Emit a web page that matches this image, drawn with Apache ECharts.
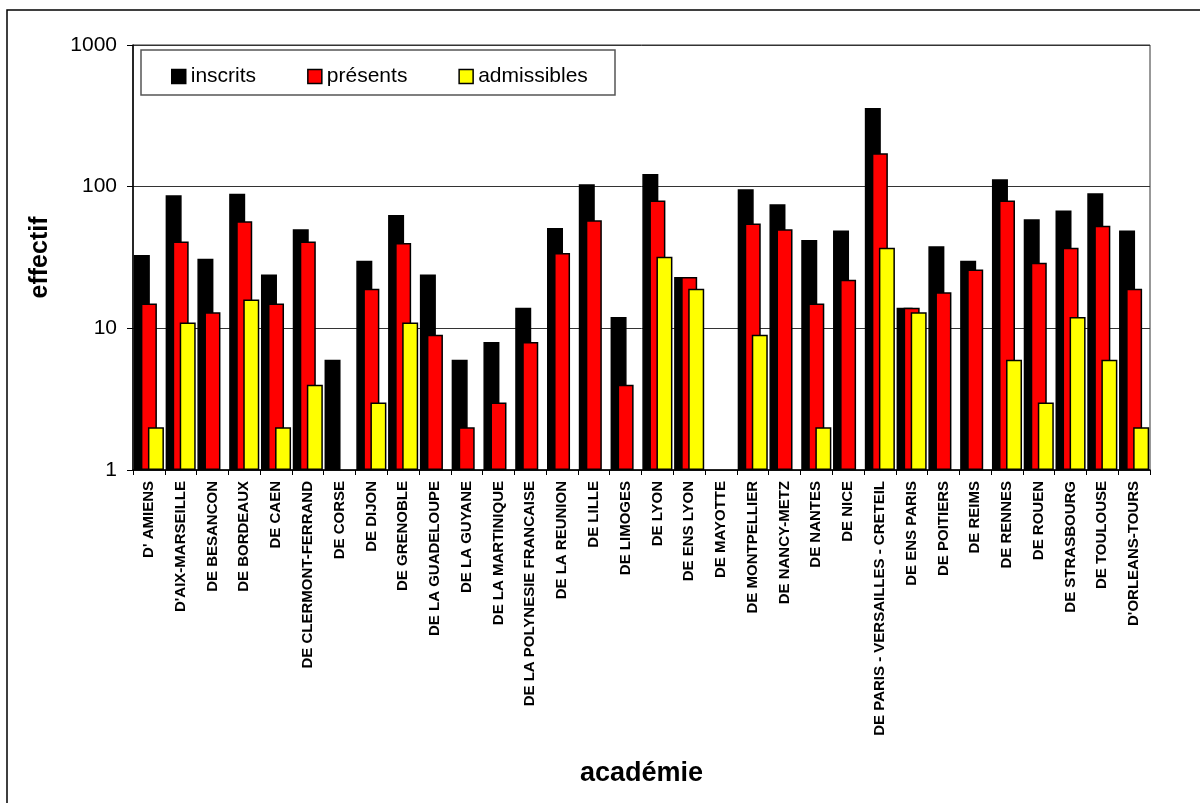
<!DOCTYPE html>
<html>
<head>
<meta charset="utf-8">
<script src="https://cdn.jsdelivr.net/npm/echarts@6/dist/echarts.min.js"></script>
<style>
  html, body { margin: 0; padding: 0; background: #fff; }
  #chart { width: 1200px; height: 803px; }
</style>
</head>
<body>
<div id="chart"></div>
<script>
// Académies (axe des catégories)
const academies = [
  "D' AMIENS", "D'AIX-MARSEILLE", "DE BESANCON", "DE BORDEAUX", "DE CAEN",
  "DE CLERMONT-FERRAND", "DE CORSE", "DE DIJON", "DE GRENOBLE", "DE LA GUADELOUPE",
  "DE LA GUYANE", "DE LA MARTINIQUE", "DE LA POLYNESIE FRANCAISE", "DE LA REUNION", "DE LILLE",
  "DE LIMOGES", "DE LYON", "DE ENS LYON", "DE MAYOTTE", "DE MONTPELLIER",
  "DE NANCY-METZ", "DE NANTES", "DE NICE", "DE PARIS - VERSAILLES - CRETEIL", "DE ENS PARIS",
  "DE POITIERS", "DE REIMS", "DE RENNES", "DE ROUEN", "DE STRASBOURG",
  "DE TOULOUSE", "D'ORLEANS-TOURS"
];

// Effectifs par académie (null = aucun candidat)
const inscrits = [
  33, 87, 31, 89, 24,
  50, 6, 30, 63, 24,
  6, 8, 14, 51, 104,
  12, 123, 23, null, 96,
  75, 42, 49, 359, 14,
  38, 30, 113, 59, 68,
  90, 49
];
const presents = [
  15, 41, 13, 57, 15,
  41, null, 19, 40, 9,
  2, 3, 8, 34, 58,
  4, 80, 23, null, 55,
  50, 15, 22, 172, 14,
  18, 26, 80, 29, 37,
  53, 19
];
const admissibles = [
  2, 11, null, 16, 2,
  4, null, 3, 11, null,
  null, null, null, null, null,
  null, 32, 19, null, 9,
  null, 2, null, 37, 13,
  null, null, 6, 3, 12,
  6, 2
];

const FONT = "'Liberation Sans', Arial, sans-serif";

const chart = echarts.init(document.getElementById('chart'), null, { renderer: 'canvas' });

function barSeries(name, data, color) {
  return {
    name: name,
    type: 'bar',
    data: data,
    barWidth: 16,
    barGap: '-56%',
    itemStyle: { color: color, borderColor: '#000', borderWidth: 1.5 },
    emphasis: { disabled: true }
  };
}

chart.setOption({
  animation: false,
  backgroundColor: '#fff',
  textStyle: { fontFamily: FONT, color: '#000' },
  grid: {
    left: 133, right: 50, top: 45, bottom: 333,
    show: true, borderColor: '#333', borderWidth: 1, backgroundColor: 'transparent'
  },
  graphic: [
    {
      type: 'polyline',
      shape: { points: [[7, 803], [7, 10], [1200, 10]] },
      style: { stroke: '#000', lineWidth: 1.5, fill: null },
      silent: true
    },
    {
      type: 'rect',
      shape: { x: 141, y: 50, width: 474, height: 45 },
      style: { stroke: '#555', lineWidth: 1.5, fill: '#fff' },
      z: 5,
      silent: true
    }
  ],
  legend: {
    data: ['inscrits', 'présents', 'admissibles'],
    left: 166,
    top: 61,
    itemWidth: 14,
    itemHeight: 14,
    itemGap: 51,
    icon: 'rect',
    selectedMode: false,
    z: 10,
    itemStyle: { borderColor: '#000', borderWidth: 1.5 },
    textStyle: { fontFamily: FONT, fontSize: 21, color: '#000', padding: [0, 0, 0, 0] }
  },
  xAxis: {
    type: 'category',
    data: academies,
    name: 'académie',
    nameLocation: 'middle',
    nameGap: 290,
    nameTextStyle: { fontFamily: FONT, fontSize: 27, fontWeight: 'bold', color: '#000' },
    axisLine: { lineStyle: { color: '#000', width: 1.5 } },
    axisTick: { show: true, alignWithLabel: false, interval: 0, length: 5, lineStyle: { color: '#000' } },
    axisLabel: {
      interval: 0,
      rotate: 90,
      margin: 11,
      fontFamily: FONT,
      fontSize: 15,
      fontWeight: 'bold',
      color: '#000'
    },
    splitLine: { show: false }
  },
  yAxis: {
    type: 'log',
    logBase: 10,
    min: 1,
    max: 1000,
    name: 'effectif',
    nameLocation: 'middle',
    nameGap: 80,
    nameTextStyle: { fontFamily: FONT, fontSize: 25, fontWeight: 'bold', color: '#000' },
    axisLine: { show: true, lineStyle: { color: '#000', width: 1.5 } },
    axisTick: { show: true, length: 6, lineStyle: { color: '#000' } },
    axisLabel: {
      fontFamily: FONT, fontSize: 21, color: '#000', margin: 16,
      formatter: function (v) { return String(Math.round(v)); }
    },
    splitLine: { show: true, lineStyle: { color: '#333', width: 1 } },
    minorTick: { show: false }
  },
  series: [
    barSeries('inscrits', inscrits, '#000000'),
    barSeries('présents', presents, '#ff0000'),
    barSeries('admissibles', admissibles, '#ffff00')
  ]
});
</script>
</body>
</html>
